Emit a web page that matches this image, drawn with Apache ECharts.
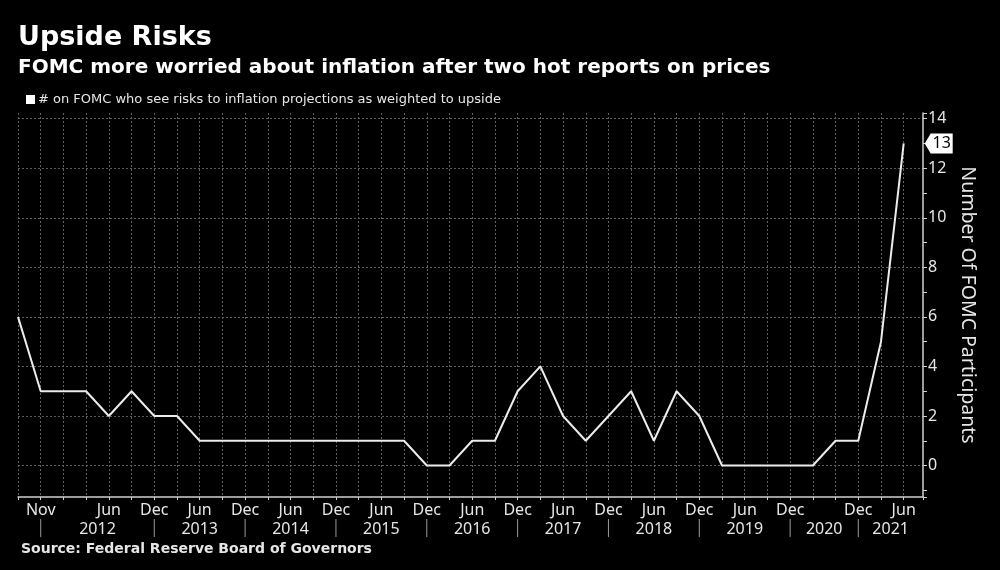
<!DOCTYPE html>
<html>
<head>
<meta charset="utf-8">
<script src="https://cdn.jsdelivr.net/npm/echarts@6/dist/echarts.min.js"></script>
<style>
html,body{margin:0;padding:0;background:#000;}
#chart{width:1000px;height:570px;}
</style>
</head>
<body>
<div id="chart"></div>
<script>
// FOMC Summary of Economic Projections meetings (one category each, evenly spaced)
const categories = [
  "Jun 2011","Nov 2011","Jan 2012","Apr 2012","Jun 2012","Sep 2012","Dec 2012",
  "Mar 2013","Jun 2013","Sep 2013","Dec 2013","Mar 2014","Jun 2014","Sep 2014","Dec 2014",
  "Mar 2015","Jun 2015","Sep 2015","Dec 2015","Mar 2016","Jun 2016","Sep 2016","Dec 2016",
  "Mar 2017","Jun 2017","Sep 2017","Dec 2017","Mar 2018","Jun 2018","Sep 2018","Dec 2018",
  "Mar 2019","Jun 2019","Sep 2019","Dec 2019","Jun 2020","Sep 2020","Dec 2020",
  "Mar 2021","Jun 2021"
];
// # of FOMC participants who see inflation risks weighted to upside
const upsideCounts = [
  6,3,3,3,2,3,2,
  2,1,1,1,1,1,1,1,
  1,1,1,0,0,1,1,3,
  4,2,1,2,3,1,3,2,
  0,0,0,0,0,1,1,
  5,13
];
// month tick labels shown under the axis (blank = no label)
const monthTickLabels = [
  "","Nov","","","Jun","","Dec",
  "","Jun","","Dec","","Jun","","Dec",
  "","Jun","","Dec","","Jun","","Dec",
  "","Jun","","Dec","","Jun","","Dec",
  "","Jun","","Dec","","","Dec",
  "","Jun"
];
// year labels and the category index where each year's band starts
const yearLabels = ["2012","2013","2014","2015","2016","2017","2018","2019","2020","2021"];
const yearStartIndex = [1,6,10,14,18,22,26,30,34,37];
const yTickValues = [0,2,4,6,8,10,12,14];

const seriesName = "# on FOMC who see risks to inflation projections as weighted to upside";
const X_MAX = 39.85;
const Y_MIN = -1.27;
const Y_MAX = 14.23;

const lineData = upsideCounts.map((v, i) => [i, v]);
const lastIdx = upsideCounts.length - 1;
const yearSpans = yearLabels.map((y, i) => [yearStartIndex[i], i + 1 < yearStartIndex.length ? yearStartIndex[i + 1] : X_MAX]);

const chart = echarts.init(document.getElementById('chart'), null, {renderer: 'canvas'});
const txt = '#e6e6e6';
const gridColor = '#606060';
const axisColor = '#cfcfcf';

chart.setOption({
  backgroundColor: '#000',
  animation: false,
  title: [
    {text: 'Upside Risks', left: 18, top: 24, padding: 0,
     textStyle: {fontFamily: 'DejaVu Sans', fontWeight: 'bold', fontSize: 27, color: '#fff'}},
    {text: 'FOMC more worried about inflation after two hot reports on prices', left: 18, top: 58, padding: 0,
     textStyle: {fontFamily: 'DejaVu Sans', fontWeight: 'bold', fontSize: 20, color: '#fff'}},
    {text: 'Source: Federal Reserve Board of Governors', left: 21, top: 542, padding: 0,
     textStyle: {fontFamily: 'DejaVu Sans', fontWeight: 'bold', fontSize: 14, color: '#e6e6e6'}}
  ],
  legend: {
    data: [seriesName],
    left: 26, top: 93, padding: 0,
    icon: 'rect', itemWidth: 9, itemHeight: 9, itemGap: 4,
    textStyle: {fontFamily: 'DejaVu Sans', fontSize: 13, color: txt, padding: [0,0,0,-2]},
    selectedMode: false
  },
  grid: {left: 18, right: 77, top: 113, bottom: 73, containLabel: false},
  xAxis: {
    type: 'value', min: 0, max: X_MAX, interval: 1,
    axisLine: {show: true, onZero: false, lineStyle: {color: axisColor, width: 1.5}},
    axisTick: {show: true, length: 3, lineStyle: {color: axisColor}},
    axisLabel: {
      show: true, margin: 5, color: txt, fontFamily: 'Noto Sans', fontSize: 16,
      formatter: v => monthTickLabels[v] || ''
    },
    splitLine: {show: true, showMaxLine: false, lineStyle: {color: gridColor, type: [2, 2], width: 1}}
  },
  yAxis: {
    type: 'value', position: 'right', min: Y_MIN, max: Y_MAX,
    splitNumber: 8, minInterval: 2, maxInterval: 2,
    axisLine: {show: true, onZero: false, lineStyle: {color: axisColor, width: 1.5}},
    axisTick: {show: true, length: 4, lineStyle: {color: axisColor}},
    minorTick: {show: true, splitNumber: 2, length: 4, lineStyle: {color: axisColor}},
    axisLabel: {
      margin: 5, color: txt, fontFamily: 'Noto Sans', fontSize: 16,
      showMinLabel: false, showMaxLabel: false,
      formatter: v => (yTickValues.indexOf(v) >= 0 ? String(v) : '')
    },
    splitLine: {show: true, showMinLine: false, showMaxLine: false, lineStyle: {color: gridColor, type: [2, 2], width: 1}},
    name: 'Number Of FOMC Participants',
    nameLocation: 'middle', nameRotate: -90, nameGap: 31,
    nameTextStyle: {fontFamily: 'Noto Sans', fontSize: 19.5, color: txt}
  },
  series: [
    {
      name: seriesName,
      type: 'line',
      data: lineData,
      showSymbol: false,
      symbol: 'none',
      color: '#ffffff',
      lineStyle: {color: '#ececec', width: 2},
      clip: false,
      markPoint: {
        symbol: 'path://M0,10 L6,0 L28,0 L28,20 L6,20 Z',
        symbolSize: [28, 20],
        symbolOffset: [35, 0],
        itemStyle: {color: '#ffffff'},
        label: {show: true, position: 'inside', offset: [3, 0], color: '#000', fontFamily: 'Noto Sans', fontSize: 16,
                formatter: p => String(p.value)},
        data: [{coord: [lastIdx, upsideCounts[lastIdx]], value: upsideCounts[lastIdx]}]
      }
    },
    {
      name: 'years',
      type: 'custom',
      coordinateSystem: 'cartesian2d',
      clip: false,
      silent: true,
      encode: {x: [0, 1]},
      data: yearSpans,
      renderItem: (params, api) => {
        const s = api.value(0), e = api.value(1);
        const p0 = api.coord([s, Y_MIN]);
        const p1 = api.coord([e, Y_MIN]);
        return {
          type: 'group',
          children: [
            {type: 'line', shape: {x1: p0[0], y1: p0[1] + 22, x2: p0[0], y2: p0[1] + 40},
             style: {stroke: '#9a9a9a', lineWidth: 1}},
            {type: 'text', x: (p0[0] + p1[0]) / 2, y: p0[1] + 32,
             style: {text: yearLabels[params.dataIndex], fill: txt, font: '16px "Noto Sans"',
                     textAlign: 'center', textVerticalAlign: 'middle'}}
          ]
        };
      }
    }
  ]
});
</script>
</body>
</html>
